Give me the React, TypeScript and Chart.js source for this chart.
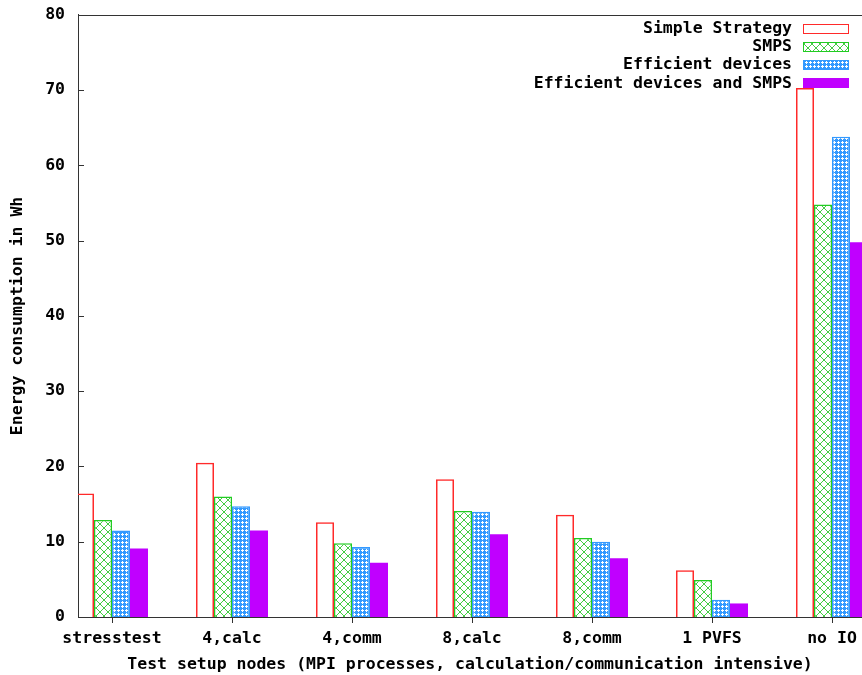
import React, { useEffect, useRef } from 'react';
import { Chart, registerables } from 'chart.js';

Chart.register(...registerables);

const categories = ['stresstest', '4,calc', '4,comm', '8,calc', '8,comm', '1 PVFS', 'no IO'];
const seriesNames = ['Simple Strategy', 'SMPS', 'Efficient devices', 'Efficient devices and SMPS'];
const simpleStrategy = [16.4, 20.5, 12.6, 18.3, 13.6, 6.2, 70.3];
const smps = [12.9, 16.0, 9.8, 14.1, 10.5, 4.9, 54.8];
const efficientDevices = [11.5, 14.7, 9.3, 14.0, 10.0, 2.3, 63.8];
const efficientAndSmps = [9.1, 11.5, 7.2, 11.0, 7.8, 1.8, 49.8];
const yTickValues = [0, 10, 20, 30, 40, 50, 60, 70, 80];
const xTitle = 'Test setup nodes (MPI processes, calculation/communication intensive)';
const yTitle = 'Energy consumption in Wh';

const FONT_FAMILY = "'DejaVu Sans Mono', 'Liberation Mono', monospace";
const AXIS_COLOR = '#333333';

function greenPattern(ctx: CanvasRenderingContext2D) {
  const c = document.createElement('canvas');
  c.width = 8;
  c.height = 8;
  const g = c.getContext('2d')!;
  g.fillStyle = '#ffffff';
  g.fillRect(0, 0, 8, 8);
  g.fillStyle = '#44cc44';
  for (let i = 0; i < 8; i++) {
    g.fillRect(i, i, 1, 1);
    g.fillRect(7 - i, i, 1, 1);
  }
  return ctx.createPattern(c, 'repeat')!;
}

function bluePattern(ctx: CanvasRenderingContext2D) {
  const c = document.createElement('canvas');
  c.width = 4;
  c.height = 4;
  const g = c.getContext('2d')!;
  g.fillStyle = '#3399ff';
  g.fillRect(0, 0, 4, 4);
  g.fillStyle = '#ffffff';
  g.fillRect(2, 1, 1, 1);
  g.fillRect(1, 2, 3, 1);
  g.fillRect(2, 3, 1, 1);
  return ctx.createPattern(c, 'repeat')!;
}

export default function App() {
  const ref = useRef<HTMLCanvasElement>(null);

  useEffect(() => {
    const canvas = ref.current!;
    const ctx = canvas.getContext('2d')!;
    const gp = greenPattern(ctx);
    const bp = bluePattern(ctx);
    const font = { family: FONT_FAMILY, size: 16.5, weight: 'bold' as const };
    const mk = (vals: number[]) => vals.map((y, i) => ({ x: i, y }));

    const framePlugin = {
      id: 'frame',
      afterDraw(chart: any) {
        const { ctx: c, chartArea: a, scales } = chart;
        const x = scales.x;
        const y = scales.y;
        c.save();
        c.strokeStyle = AXIS_COLOR;
        c.lineWidth = 1;
        c.beginPath();
        yTickValues.forEach((v) => {
          const py = Math.round(y.getPixelForValue(v)) + 0.5;
          c.moveTo(a.left, py);
          c.lineTo(a.left + 6, py);
        });
        categories.forEach((_, i) => {
          const px = Math.round(x.getPixelForValue(i)) + 0.5;
          c.moveTo(px, a.bottom);
          c.lineTo(px, a.bottom + 6);
        });
        c.moveTo(a.left, Math.round(a.top) + 0.5);
        c.lineTo(a.right, Math.round(a.top) + 0.5);
        c.stroke();

        // key (legend)
        const ds = chart.data.datasets;
        c.font = `bold ${font.size}px ${FONT_FAMILY}`;
        c.textAlign = 'right';
        c.textBaseline = 'middle';
        ds.forEach((d: any, i: number) => {
          const yc = 28.5 + i * 18.3;
          c.fillStyle = '#000';
          c.fillText(d.label, 792, yc);
          const rx = 803.5, ry = Math.round(yc - 5) + 0.5, rw = 45, rh = 9;
          c.fillStyle = d.backgroundColor;
          c.fillRect(rx, ry, rw, rh);
          c.strokeStyle = d.borderColor;
          c.lineWidth = 1;
          c.strokeRect(rx, ry, rw, rh);
        });
        c.restore();
      },
    };

    const chart = new Chart(ctx, {
      type: 'bar',
      data: {
        datasets: [
          { label: seriesNames[0], data: mk(simpleStrategy), backgroundColor: 'rgba(255,255,255,0)', borderColor: '#ff2a2a', borderWidth: 1.5 },
          { label: seriesNames[1], data: mk(smps), backgroundColor: gp as any, borderColor: '#22cc22', borderWidth: 1.5 },
          { label: seriesNames[2], data: mk(efficientDevices), backgroundColor: bp as any, borderColor: '#3399ff', borderWidth: 1.5 },
          { label: seriesNames[3], data: mk(efficientAndSmps), backgroundColor: '#c000ff', borderColor: '#c000ff', borderWidth: 0 },
        ],
      },
      options: {
        responsive: false,
        animation: false,
        layout: { padding: { top: 6, left: 0, right: 0, bottom: 0 } },
        datasets: { bar: { categoryPercentage: 0.6, barPercentage: 1 } } as any,
        plugins: { legend: { display: false }, tooltip: { enabled: false } },
        scales: {
          x: {
            type: 'linear',
            offset: false,
            min: -0.2833,
            max: 6.25,
            grid: { display: false },
            border: { display: true, color: AXIS_COLOR, width: 1 },
            afterBuildTicks: (s: any) => {
              s.ticks = categories.map((_, i) => ({ value: i }));
            },
            afterFit: (s: any) => {
              s.height = 58;
            },
            ticks: {
              callback: (v: any) => categories[v] ?? '',
              font,
              color: '#000',
              padding: 4,
              maxRotation: 0,
              autoSkip: false,
            },
            title: { display: true, text: xTitle, font, color: '#000', padding: { top: 0, bottom: 0 } },
          },
          y: {
            min: 0,
            max: 80,
            grid: { display: false },
            border: { display: true, color: AXIS_COLOR, width: 1 },
            afterFit: (s: any) => {
              s.width = 78;
            },
            ticks: { stepSize: 10, font, color: '#000', padding: 5 },
            title: { display: true, text: yTitle, font, color: '#000', padding: { top: 8, bottom: 0 } },
          },
        },
      } as any,
      plugins: [framePlugin],
    });

    return () => chart.destroy();
  }, []);

  return (
    <div style={{ position: 'absolute', left: 0, top: 0, width: 862, height: 675, overflow: 'hidden' }}>
      <canvas ref={ref} width={862} height={675} style={{ display: 'block' }} />
    </div>
  );
}
